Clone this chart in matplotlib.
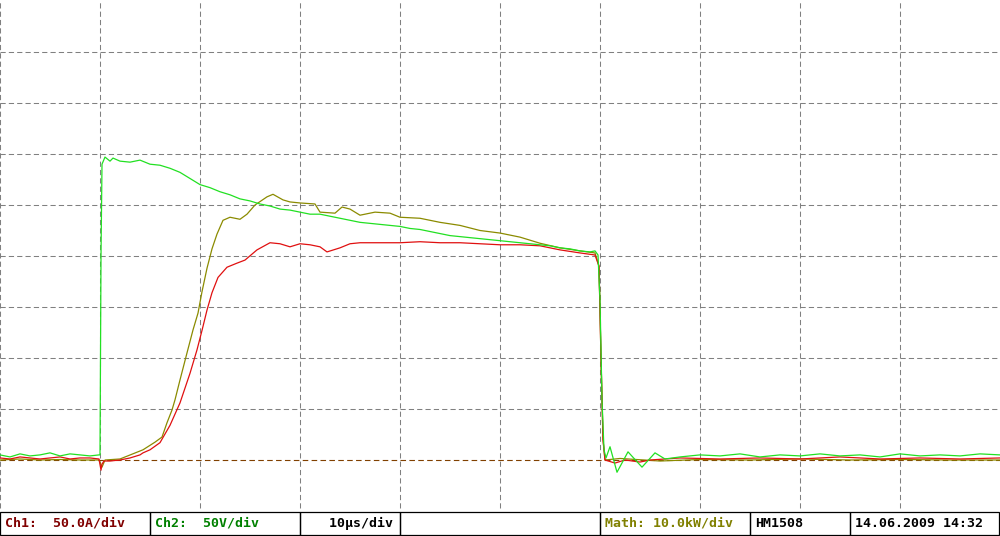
import matplotlib
matplotlib.use("Agg")
import matplotlib.pyplot as plt
from matplotlib.patches import Rectangle

# scope settings (per division)
ch1_scale = 50.0    # A/div
ch2_scale = 50.0    # V/div
math_scale = 10.0   # kW/div

# Ch2 - voltage (V) vs time (us)
ch2_t = [0, 1, 2, 3, 4, 5, 6, 7, 8, 9, 9.9,
         10.0, 10.1, 10.2, 10.5, 11.0, 11.3,
         12, 13, 14, 15, 16, 17, 18, 19, 20, 21, 22, 23, 24, 25, 26, 27, 28, 29,
         30, 31, 32, 33, 34, 35, 36, 37, 38, 39, 40, 41, 42, 43, 44, 45, 46, 47,
         48, 49, 50, 51, 52, 53, 54, 55, 56, 57, 58, 59,
         59.5, 59.8,
         60.0, 60.2, 60.4, 60.6, 61.0, 61.7, 62.8, 64.2, 65.5, 66.5,
         68, 70, 72, 74, 76, 78, 80, 82, 84, 86, 88, 90, 92, 94, 96, 98, 100]
ch2_v = [5, 3, 6, 4, 5, 7, 4, 6, 5, 4, 5,
         5, 200, 290, 297, 293, 296,
         293, 292, 294, 290, 289, 286, 282, 276, 270, 267, 263, 260, 256, 254, 251, 249, 246, 245,
         243, 241, 241, 239, 237, 235, 233, 232, 231, 230, 229, 227, 226, 224, 222, 220, 219, 218,
         217, 216, 215, 214, 213, 212, 211, 210, 208, 207, 205, 204,
         205, 201,
         157, 59, 10, 2, 13, -12, 8, -7, 7, 1,
         3, 5, 4, 6, 3, 5, 4, 6, 4, 5, 3, 6, 4, 5, 4, 6, 5]

# Ch1 - current (A) vs time (us)
ch1_t = [0, 1, 2, 3, 4, 5, 6, 7, 8, 9, 9.9,
         10.1, 10.2, 10.4, 11, 12, 13, 14, 14.3, 15, 16, 17, 18, 19,
         19.7, 20.2, 20.7, 21.2, 21.8, 22.7, 23.7, 24.5, 25.7,
         27, 28, 29, 30, 31, 32, 32.7, 34, 35, 36,
         38, 40, 42, 44, 46, 48, 50, 52, 54, 56, 58,
         59.5, 59.9, 60.1, 60.3, 60.5, 61.5, 62.5, 64, 65,
         68, 72, 76, 80, 84, 88, 92, 96, 100]
ch1_a = [2, 1, 3, 2, 1, 2, 3, 1, 2, 2, 1,
         -10, -4, -1, -1, 0, 2, 5, 7, 10, 17, 34, 56, 85,
         108, 127, 147, 164, 179, 189, 193, 196, 206,
         213, 212, 209, 212, 211, 209, 204, 208, 212, 213,
         213, 213, 214, 213, 213, 212, 211, 211, 210, 206, 203,
         201, 190, 100, 20, 0, -3, 0, -2, 0,
         2, 1, 2, 1, 3, 1, 2, 1, 2]

# Math - power (kW) vs time (us)
math_t = [0, 2, 4, 6, 8, 9.9, 10.2, 10.5, 12,
          14.3, 15.5, 16.2, 16.7, 17.2, 17.5, 18,
          18.7, 19.3, 19.8, 20.2, 20.7, 21.2, 21.7, 22.3, 23,
          24, 24.7, 25.5, 26.7, 27.3, 28.3, 29, 30,
          31.5, 32, 33.5, 34.2, 35, 36, 37.5, 39, 40,
          42, 44, 46, 48, 50, 52, 54, 56, 58,
          59.5, 59.9, 60.1, 60.3, 60.5,
          62, 66, 70, 75, 80, 85, 90, 95, 100]
math_kw = [0, 0.2, 0, 0.1, 0, 0, -1.4, 0, 0.2,
           2, 3.5, 4.5, 7.3, 9.8, 11.8, 15.7,
           21, 25.5, 28.8, 33, 37.6, 41.4, 44.3, 47, 47.6,
           47.2, 48.2, 50, 51.6, 52.1, 51, 50.6, 50.4,
           50.2, 48.6, 48.4, 49.6, 49.2, 48, 48.6, 48.4, 47.6,
           47.4, 46.6, 46, 45, 44.5, 43.7, 42.5, 41.6, 41,
           40.6, 38, 20, 4, 0,
           0.3, -0.2, 0.1, 0, 0.2, 0, 0.1, 0, 0]

# status bar: (text, colour, box left px, box right px)
status = [("Ch1:  50.0A/div", "#800000", 0, 150),
          ("Ch2:  50V/div", "#008000", 150, 300),
          ("   10\u00b5s/div", "black", 300, 400),
          ("", "black", 400, 600),
          ("Math: 10.0kW/div", "#808000", 600, 750),
          ("HM1508", "black", 750, 850),
          ("14.06.2009 14:32", "black", 850, 999)]

W, H = 1000, 536
fig = plt.figure(figsize=(10, 5.36), dpi=100)
ax = fig.add_axes([0, 25 / H, 1, 510 / H])
ax.set_xlim(0, 100)
ax.set_ylim(-1, 9)
ax.axis("off")

grid_kw = dict(color="#808080", lw=0.75, ls=(0, (5, 3)), zorder=1)
for xv in range(0, 100, 10):
    ax.axvline(xv, ymin=0.005, **grid_kw)
for yv in range(1, 9):
    ax.axhline(yv, **grid_kw)

# ground markers
ax.axhline(0, color="#804000", lw=0.8, ls=(0, (5, 3)), zorder=2)

ax.plot(math_t, [v / math_scale for v in math_kw], color="#8b8b00", lw=0.9, zorder=3)
ax.plot(ch1_t, [v / ch1_scale for v in ch1_a], color="#e01010", lw=0.9, zorder=4)
ax.plot(ch2_t, [v / ch2_scale for v in ch2_v], color="#22e022", lw=0.9, zorder=5)

# status bar boxes and text
for text, col, x0, x1 in status:
    fig.patches.append(Rectangle((x0 / W, 1 / H), (x1 - x0) / W, 23 / H,
                                 transform=fig.transFigure, fill=False,
                                 edgecolor="black", lw=0.9))
    fig.text((x0 + 5) / W, 12.5 / H, text, color=col, fontsize=9.5,
             family="DejaVu Sans Mono", weight="bold", va="center", ha="left")

fig.savefig("out.png", dpi=100)
